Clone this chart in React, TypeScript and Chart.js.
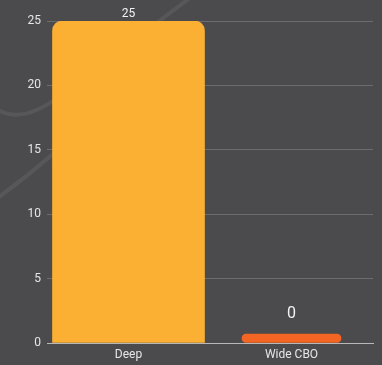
import React, { useEffect, useRef } from "react";
import { Chart, registerables } from "chart.js";

Chart.register(...registerables);

const categories = ["Deep", "Wide CBO"];
const deepValues = [25, null];
const wideValues = [null, 0];
const yTicks = [0, 5, 10, 15, 20, 25];

const BG = "#4b4b4d";

const backgroundSwoosh = {
  id: "backgroundSwoosh",
  beforeDraw(chart: any) {
    const ctx = chart.ctx;
    ctx.save();
    ctx.fillStyle = BG;
    ctx.fillRect(0, 0, chart.width, chart.height);
    ctx.strokeStyle = "rgba(255,255,255,0.07)";
    ctx.lineWidth = 4;
    ctx.lineCap = "round";
    ctx.beginPath();
    ctx.moveTo(-5, 108);
    ctx.quadraticCurveTo(20, 126, 60, 96);
    ctx.lineTo(195, -6);
    ctx.stroke();
    ctx.beginPath();
    ctx.moveTo(60, 148);
    ctx.quadraticCurveTo(28, 176, -5, 200);
    ctx.stroke();
    ctx.restore();
  },
};

const valueLabels = {
  id: "valueLabels",
  afterDatasetsDraw(chart: any) {
    const ctx = chart.ctx;
    ctx.save();
    ctx.fillStyle = "#f2f2f2";
    ctx.textAlign = "center";
    ctx.textBaseline = "alphabetic";
    chart.data.datasets.forEach((ds: any, di: number) => {
      const meta = chart.getDatasetMeta(di);
      meta.data.forEach((el: any, i: number) => {
        const v = ds.data[i];
        if (v === null || v === undefined) return;
        if (di === 0) {
          ctx.font = "12px Roboto";
          ctx.fillText(String(v), el.x, el.y - 4);
        } else {
          ctx.font = "16px Roboto";
          ctx.fillText(String(v), el.x, el.y - 16);
        }
      });
    });
    ctx.restore();
  },
};

export default function App() {
  const ref = useRef<HTMLCanvasElement | null>(null);
  useEffect(() => {
    if (!ref.current) return;
    Chart.defaults.font.family = "Roboto";
    const chart = new Chart(ref.current, {
      type: "bar",
      data: {
        labels: categories,
        datasets: [
          {
            label: "Deep",
            data: deepValues,
            backgroundColor: "#fbb034",
            barThickness: 152,
            borderRadius: 10,
            borderSkipped: "start",
            grouped: false,
          } as any,
          {
            label: "Wide CBO",
            data: wideValues,
            backgroundColor: "#f26522",
            barThickness: 99,
            minBarLength: 9,
            borderRadius: 5,
            borderSkipped: false,
            grouped: false,
          } as any,
        ],
      },
      options: {
        animation: false,
        responsive: true,
        maintainAspectRatio: false,
        layout: { padding: { top: 21, right: 9, left: 0, bottom: 0 } },
        plugins: { legend: { display: false }, tooltip: { enabled: false } },
        scales: {
          x: {
            grid: { display: false, drawTicks: false },
            border: { display: true, color: "#b8b8b8", width: 1 },
            ticks: { color: "#e6e6e6", font: { size: 12 }, padding: 5 },
            afterFit: (s: any) => {
              s.height = 22;
            },
          },
          y: {
            min: 0,
            max: 25,
            afterBuildTicks: (s: any) => {
              s.ticks = yTicks.map((v) => ({ value: v }));
            },
            grid: { color: "#6c6c6e", drawTicks: false, lineWidth: 1 },
            border: { display: false },
            ticks: { color: "#e6e6e6", font: { size: 12 }, padding: 6 },
            afterFit: (s: any) => {
              s.width = 47;
            },
          },
        },
      },
      plugins: [backgroundSwoosh, valueLabels],
    });
    return () => chart.destroy();
  }, []);
  return (
    <div
      style={{
        position: "fixed",
        left: 0,
        top: 0,
        width: 382,
        height: 365,
        background: BG,
      }}
    >
      <canvas ref={ref} />
    </div>
  );
}
